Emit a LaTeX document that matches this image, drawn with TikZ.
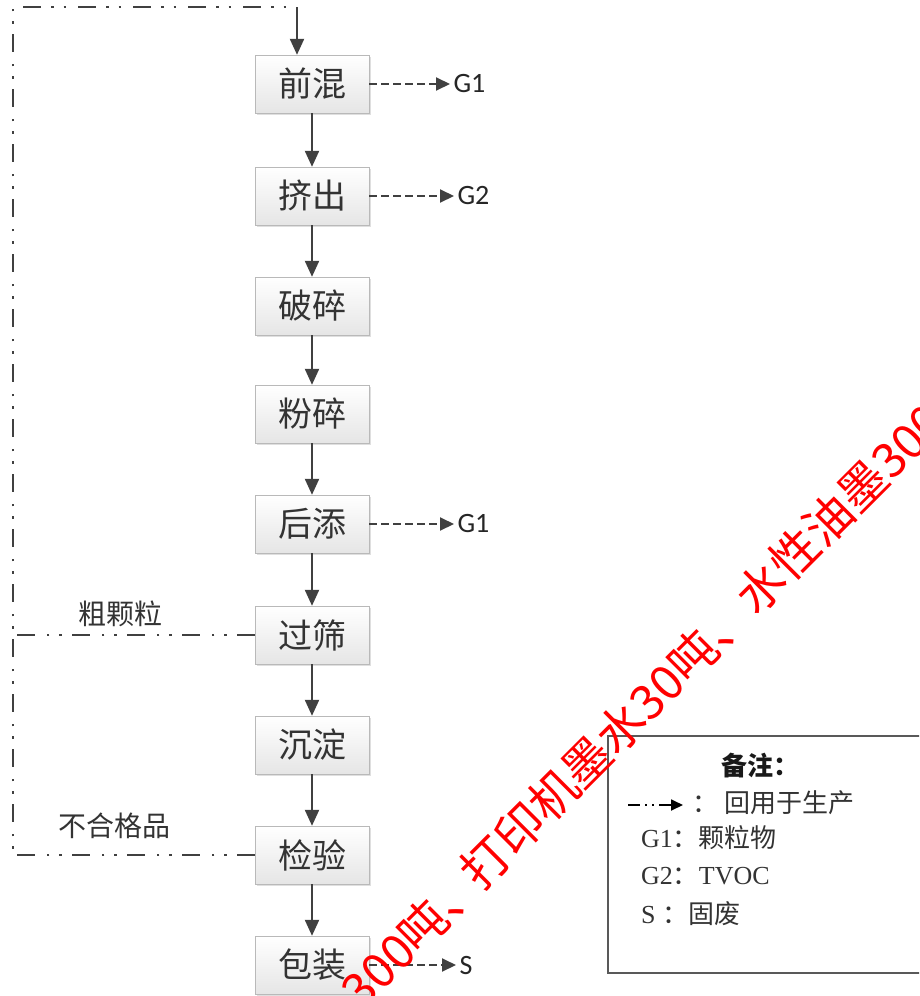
\documentclass[tikz,border=0pt]{standalone}
\usepackage{fontspec}
\setmainfont{Liberation Serif}
\newfontfamily\cjk{Noto Sans CJK SC}
\newfontfamily\lab{Carlito}
\usetikzlibrary{arrows.meta,shadows}
\tikzset{
  stepbox/.style={draw=gray!55, top color=white, bottom color=gray!20,
    minimum width=114pt, minimum height=58pt, inner sep=0pt,
    font=\cjk\fontsize{34}{34}\selectfont, text=black!80,
    drop shadow={opacity=0.25, shadow xshift=2pt, shadow yshift=-2pt}},
  flow/.style={draw=black!75, line width=2.2pt, -{Triangle[length=16pt,width=14pt]}},
  emit/.style={draw=black!75, line width=2pt, dash pattern=on 8pt off 4pt,
    -{Triangle[length=14pt,width=13pt]}},
  recyc/.style={draw=black!75, line width=2.8pt,
    dash pattern=on 18pt off 10pt on 2.5pt off 10pt on 2.5pt off 12pt},
  emlab/.style={anchor=west, font=\lab\fontsize{28}{28}\selectfont, text=black!85},
  sidelab/.style={font=\cjk\fontsize{28}{28}\selectfont, text=black!80},
  legtxt/.style={anchor=west, font=\fontsize{26}{26}\selectfont, text=black!80, inner sep=0pt},
  wm/.style={text=red, font=\cjk\fontsize{48}{48}\selectfont, rotate=45, inner sep=0pt}
}
\begin{document}
\begin{tikzpicture}[x=1pt,y=-1pt]
\useasboundingbox (0,0) rectangle (919,996);
\fill[white] (0,0) rectangle (919,996);
\clip (0,0) rectangle (919,996);

% process boxes
\node[stepbox] (qh) at (312,84)  {前混};
\node[stepbox] (jc) at (312,196) {挤出};
\node[stepbox] (ps) at (312,306) {破碎};
\node[stepbox] (fs) at (312,414) {粉碎};
\node[stepbox] (ht) at (312,524) {后添};
\node[stepbox] (gs) at (312,635) {过筛};
\node[stepbox] (cd) at (312,745) {沉淀};
\node[stepbox] (jy) at (312,855) {检验};
\node[stepbox] (bz) at (312,965) {包装};

% main flow
\draw[flow] (qh.south) -- (jc.north);
\draw[flow] (jc.south) -- (ps.north);
\draw[flow] (ps.south) -- (fs.north);
\draw[flow] (fs.south) -- (ht.north);
\draw[flow] (ht.south) -- (gs.north);
\draw[flow] (gs.south) -- (cd.north);
\draw[flow] (cd.south) -- (jy.north);
\draw[flow] (jy.south) -- (bz.north);

% emissions
\node[emlab] (g1a) at (450,84)  {G1};
\node[emlab] (g2)  at (454,196) {G2};
\node[emlab] (g1b) at (454,524) {G1};
\node[emlab] (s)   at (456,965) {S};
\draw[emit] (qh.east) -- (g1a.west);
\draw[emit] (jc.east) -- (g2.west);
\draw[emit] (ht.east) -- (g1b.west);
\draw[emit] (bz.east) -- (s.west);

% recycle loop
\coordinate (tl) at (13,7);
\coordinate (tr) at (297,7);
\draw[recyc] (jy.west) -- (jy.west -| tl) -- (tl) -- (tr);
\draw[recyc] (gs.west) -- (gs.west -| tl);
\draw[flow] (tr) -- (tr |- qh.north);
\node[sidelab] (cl) at (120,614) {粗颗粒};
\node[sidelab] (bh) at (114,826) {不合格品};

% legend
\node[draw=black!65, line width=2pt, anchor=north west, minimum width=330pt,
      minimum height=237pt, inner sep=0pt] (leg) at (607,735) {};
\node[font=\cjk\bfseries\fontsize{26}{26}\selectfont, text=black!90] (lt) at (760,766) {备注：};
\coordinate (la) at (628,805);
\coordinate (lb) at (683,805);
\draw[draw=black, line width=1.8pt, dash pattern=on 12pt off 5pt on 2pt off 5pt on 2pt off 5pt,
      -{Triangle[length=12pt,width=11pt]}] (la) -- (lb);
\node[legtxt] (l0) at (692,803) {\cjk ：\hspace{6pt}回用于生产};
\node[legtxt] (l1) at (641,838) {G1\cjk ：颗粒物};
\node[legtxt] (l2) at (641,876) {G2\cjk ：\rmfamily TVOC};
\node[legtxt] (l3) at (641,914) {S \cjk ：固废};

% watermark
\coordinate (wmp) at (481,893);
\coordinate (wmq) at (487,887);
\node[wm, anchor=base east] (wa) at (wmq) {300吨、};
\node[wm, anchor=base west] (wb) at (wmp) {打印机墨水30吨、水性油墨300};
\end{tikzpicture}
\end{document}
